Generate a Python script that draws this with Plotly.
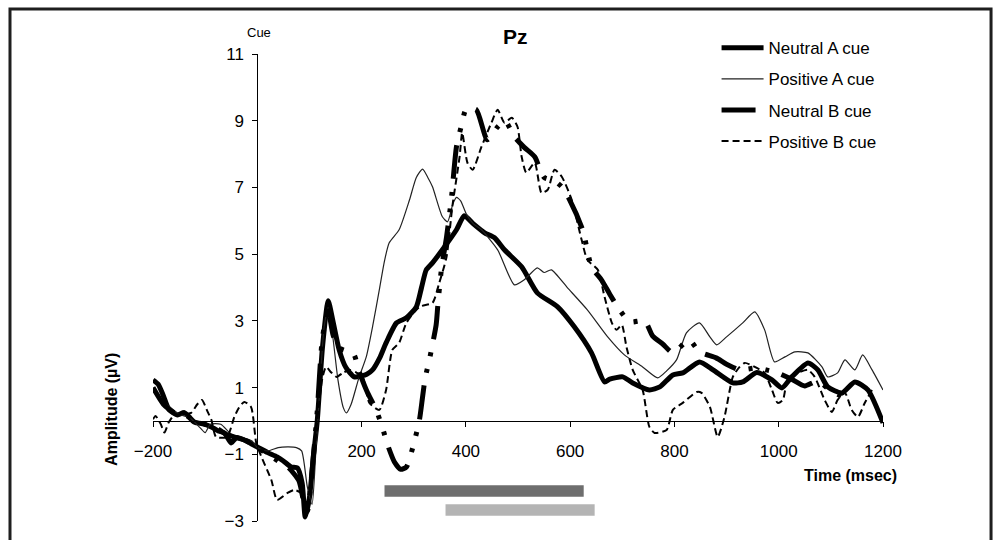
import plotly.graph_objects as go

# ---------------- data ----------------
na_t = [-200, -190, -180, -169, -153, -140, -121, -100, -88, -75, -63, -50, -40, -25, -10, 0, 20, 38, 50, 65, 77, 86,
        92, 100, 108, 115, 125, 136, 145, 157, 170, 186, 200, 210, 221, 235, 247, 267, 286, 305, 315, 324, 336, 355,
        382, 397, 415, 436, 455, 474, 507, 537, 576, 608, 641, 666, 676, 701, 720, 752, 772, 797, 816, 848, 874, 912,
        931, 958, 987, 1006, 1025, 1056, 1075, 1094, 1121, 1146, 1171, 1200]
na_v = [1.23, 1.1, 0.75, 0.33, 0.18, 0.25, -0.03, -0.1, -0.18, -0.3, -0.36, -0.66, -0.5, -0.57, -0.7, -0.78, -0.95,
        -1.08, -1.2, -1.38, -1.41, -1.86, -2.88, -2.3, -1.0, 0.0, 2.2, 3.6, 3.0, 2.13, 1.6, 1.32, 1.35, 1.4, 1.53, 1.9,
        2.34, 2.94, 3.09, 3.42, 4.0, 4.53, 4.74, 5.13, 5.73, 6.15, 5.9, 5.64, 5.49, 5.13, 4.62, 3.84, 3.42, 2.82, 2.04,
        1.17, 1.25, 1.32, 1.14, 0.93, 1.02, 1.38, 1.44, 1.77, 1.53, 1.14, 1.17, 1.45, 1.23, 0.99, 1.32, 1.74, 1.53,
        1.02, 0.84, 1.17, 0.93, -0.06]

pa_t = [-200, -185, -170, -150, -130, -110, -100, -90, -70, -50, -30, -10, 0, 20, 40, 60, 75, 85, 96, 105, 112, 120,
        128, 136, 145, 155, 165, 171, 180, 195, 209, 222, 234, 244, 253, 272, 292, 305, 317, 327, 336, 355, 365, 375,
        382, 390, 401, 415, 430, 461, 493, 512, 537, 550, 564, 595, 633, 672, 704, 739, 768, 785, 804, 823, 848, 868,
        881, 900, 931, 954, 973, 992, 1012, 1031, 1056, 1083, 1094, 1113, 1127, 1146, 1161, 1179, 1200]
pa_v = [0.9, 0.6, 0.45, 0.2, 0.1, -0.2, -0.35, -0.1, -0.1, -0.4, -0.5, -0.6, -0.8, -0.9, -0.8, -0.78, -0.8, -0.9,
        -1.98, -2.5, -1.0, 1.0, 2.8, 3.4, 2.5, 1.2, 0.4, 0.24, 0.5, 1.3, 1.92, 2.9, 3.93, 4.8, 5.34, 5.73, 6.63, 7.3,
        7.55, 7.3, 7.02, 6.12, 5.97, 6.5, 6.7, 6.6, 6.2, 5.9, 5.73, 5.13, 4.08, 4.23, 4.59, 4.45, 4.53, 3.99, 3.33,
        2.52, 1.98, 1.62, 1.29, 1.5, 1.83, 2.64, 2.94, 2.52, 2.28, 2.52, 2.94, 3.27, 2.73, 1.77, 1.92, 2.07, 2.04,
        1.62, 1.32, 1.44, 1.83, 1.53, 1.98, 1.53, 0.93]

nb_t = [-200, -180, -160, -140, -120, -100, -80, -60, -40, -20, 0, 20, 40, 60, 80, 90, 96, 105, 115, 125, 136, 145,
        155, 170, 185, 195, 210, 228, 240, 250, 263, 275, 286, 298, 311, 317, 322, 330, 343, 346, 353, 363, 372, 382,
        391, 401, 420, 441, 460, 475, 493, 512, 532, 550, 570, 585, 599, 624, 641, 660, 676, 691, 714, 743, 758, 778,
        797, 828, 848, 880, 900, 925, 958, 976, 998, 1025, 1050, 1075, 1092, 1108, 1125, 1140]
nb_v = [1.0, 0.5, 0.25, 0.2, 0.0, -0.1, -0.2, -0.4, -0.5, -0.6, -0.8, -1.0, -1.2, -1.4, -1.8, -2.5, -2.7, -1.5, 0.3,
        2.5, 3.3, 2.6, 2.2, 2.1, 2.0, 1.5, 0.9, 0.33, -0.2, -0.72, -1.23, -1.45, -1.38, -0.81, 0.03, 0.72, 1.29, 1.83,
        2.88, 3.42, 4.53, 5.52, 6.63, 8.22, 8.82, 9.36, 9.33, 8.43, 8.8, 9.0, 8.52, 8.2, 7.92, 7.3, 7.2, 7.0, 6.63,
        5.73, 4.62, 4.23, 3.8, 3.42, 2.97, 3.0, 2.55, 2.3, 2.04, 2.43, 2.07, 1.89, 1.7, 1.53, 1.59, 1.53, 1.44, 1.25,
        1.05, 1.2, 1.0, 0.84, 0.7, 0.54]

pb_t = [-200, -195, -185, -178, -170, -159, -140, -127, -115, -106, -96, -88, -79, -58, -44, -35, -25, -12, -2, 8, 27,
        38, 58, 71, 84, 96, 105, 115, 125, 132, 142, 152, 165, 177, 190, 202, 215, 234, 247, 259, 272, 286, 311, 336,
        349, 363, 374, 388, 393, 403, 413, 430, 449, 461, 474, 488, 499, 507, 516, 532, 545, 557, 570, 584, 603, 622,
        633, 653, 666, 680, 689, 699, 708, 720, 739, 752, 762, 785, 797, 816, 843, 852, 868, 883, 896, 912, 925, 935,
        954, 973, 987, 998, 1008, 1017, 1037, 1056, 1069, 1088, 1102, 1113, 1127, 1140, 1152, 1165, 1179]
pb_v = [0.05, 0.15, -0.1, -0.35, -0.05, 0.18, 0.2, 0.24, 0.5, 0.63, 0.3, 0.03, -0.48, -0.48, 0.12, 0.4, 0.57, 0.42,
        -0.66, -1.08, -1.77, -2.37, -2.16, -2.07, -2.16, -2.76, -1.8, 0.0, 1.3, 1.62, 1.45, 1.32, 1.45, 1.53, 1.45,
        1.32, 0.54, 0.33, 0.93, 2.13, 2.34, 2.94, 3.42, 3.54, 4.14, 4.92, 6.42, 7.92, 8.64, 7.74, 7.53, 8.22, 8.94,
        9.33, 8.94, 9.09, 8.82, 7.92, 7.44, 7.74, 6.84, 6.93, 7.53, 7.32, 6.63, 5.43, 4.83, 4.53, 3.72, 2.94, 2.73,
        2.88, 2.22, 1.53, 0.93, -0.18, -0.36, -0.27, 0.33, 0.54, 0.87, 0.84, 0.42, -0.48, 0.12, 1.32, 1.62, 1.74,
        1.62, 1.44, 0.93, 0.54, 0.63, 1.23, 1.44, 1.53, 1.32, 0.63, 0.27, 0.63, 0.84, 0.33, 0.12, 0.54, 0.93]

series_names = ["Neutral A cue", "Positive A cue", "Neutral B cue", "Positive B cue"]

# significance bars (ms start, ms end, amplitude level)
bar_start = [244, 361]
bar_end = [626, 647]
bar_level = [-2.1, -2.67]
bar_colors = ["#6e6e6e", "#b4b4b4"]

x_ticks = [-200, 200, 400, 600, 800, 1000, 1200]
y_ticks = [-3, -1, 1, 3, 5, 7, 9, 11]
x_range = [-200, 1200]
y_range = [-3, 11]

FONT = "Liberation Sans, Arial, sans-serif"

fig = go.Figure()
styles = [
    dict(color="black", width=5, dash="solid"),
    dict(color="#222222", width=1.2, dash="solid"),
    dict(color="black", width=5, dash="34px,13px,4px,13px,4px,13px"),
    dict(color="black", width=2, dash="7px,4px"),
]
data = [(na_t, na_v), (pa_t, pa_v), (nb_t, nb_v), (pb_t, pb_v)]
for i, ((t, v), name, st) in enumerate(zip(data, series_names, styles)):
    fig.add_trace(go.Scatter(x=t, y=v, mode="lines", name=name, legendgroup=name,
                             line=dict(shape="spline", smoothing=0.6, **st)))

shapes = []
for s, e, lvl, c in zip(bar_start, bar_end, bar_level, bar_colors):
    shapes.append(dict(type="rect", xref="x", yref="y", x0=s, x1=e, y0=lvl - 0.17, y1=lvl + 0.17,
                       fillcolor=c, line=dict(width=0), layer="above"))
# outer frame
shapes.append(dict(type="rect", xref="paper", yref="paper", x0=-0.1959, x1=1.148, y0=-0.07, y1=1.0964,
                   line=dict(color="#1e1e1e", width=3), fillcolor="rgba(0,0,0,0)"))

y_pos = (0 - y_range[0]) / (y_range[1] - y_range[0])
x_pos = (0 - x_range[0]) / (x_range[1] - x_range[0])

fig.update_layout(
    width=1001, height=540,
    margin=dict(l=153, r=118, t=54, b=19, autoexpand=False),
    paper_bgcolor="white", plot_bgcolor="white",
    font=dict(family=FONT, color="black", size=17),
    showlegend=True,
    legend=dict(x=0.772, y=1.051, xanchor="left", yanchor="top", bgcolor="rgba(0,0,0,0)",
                font=dict(family=FONT, size=17, color="black"), tracegroupgap=6, itemwidth=42,
                traceorder="grouped"),
    xaxis=dict(range=x_range, anchor="free", position=y_pos, showline=True, linecolor="black", linewidth=1,
               ticks="outside", ticklen=5, tickcolor="black", tickvals=x_ticks,
               ticktext=[f"{v}".replace("-", "\u2212") for v in x_ticks],
               showgrid=False, zeroline=False, tickfont=dict(size=17), ticklabelstandoff=10),
    yaxis=dict(range=y_range, anchor="free", position=x_pos, showline=True, linecolor="black", linewidth=1,
               ticks="outside", ticklen=5, tickcolor="black", tickvals=y_ticks,
               ticktext=[f"{v}".replace("-", "\u2212") for v in y_ticks],
               showgrid=False, zeroline=False, tickfont=dict(size=17), ticklabelstandoff=5),
    shapes=shapes,
    annotations=[
        dict(text="<b>Pz</b>", xref="paper", yref="paper", x=0.496, y=1.038, showarrow=False,
             xanchor="center", yanchor="middle", font=dict(size=21, family=FONT)),
        dict(text="Cue", xref="x", yref="paper", x=4, y=1.047, showarrow=False,
             xanchor="center", yanchor="middle", font=dict(size=13, family=FONT)),
        dict(text="<b>Amplitude (\u00b5V)</b>", xref="paper", yref="paper", x=-0.0562, y=0.24, textangle=-90,
             xanchor="center", yanchor="middle", showarrow=False, font=dict(size=16, family=FONT)),
        dict(text="<b>Time (msec)</b>", xref="paper", yref="paper", x=0.955, y=0.0985, showarrow=False,
             xanchor="center", yanchor="middle", font=dict(size=16, family=FONT)),
    ],
)

fig.write_html("out.html")
